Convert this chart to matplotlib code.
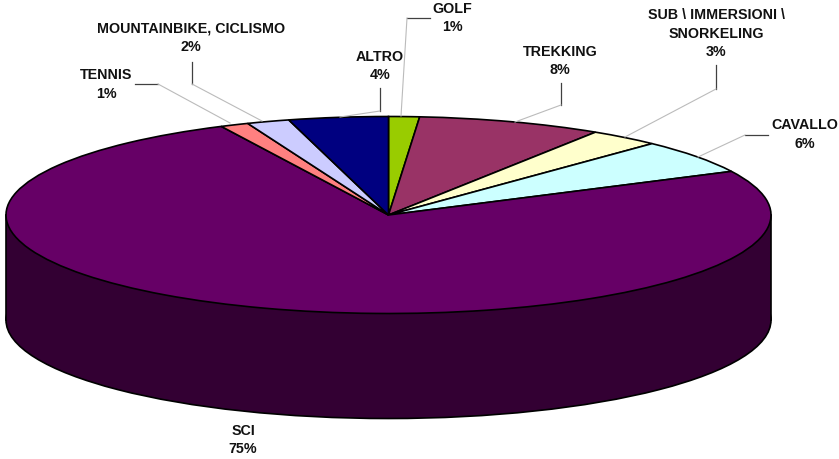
#!/bin/python3
# -*- coding: utf-8 -*-

# file name: draw_pie.py

import matplotlib as mplt
mplt.use("Agg")
import matplotlib.pyplot as plt
from matplotlib.patches import Ellipse, Rectangle

WIDTH, HEIGHT = 839, 459

# share of each sport, clockwise from twelve o'clock
sports = ["GOLF", "TREKKING", "SUB \\ IMMERSIONI \\\nSNORKELING", "CAVALLO",
          "SCI", "TENNIS", "MOUNTAINBIKE, CICLISMO", "ALTRO"]
shares = [1.3, 7.8, 3.0, 5.6, 75.1, 1.2, 1.8, 4.2]
colors = ["#99CC00", "#993366", "#FFFFCC", "#CCFFFF",
          "#660066", "#FF8080", "#CCCCFF", "#000080"]

# label centres in pixels
label_x = [452, 560, 716, 805, 243, 106, 191, 380]
label_y = [18, 61, 33.5, 134.5, 440, 84.5, 37.5, 66]

# leader lines in pixels: dark stub first, then the grey run to the slice
leaders = [
    [(430, 18), (407, 18), (401, 116)],
    [(561, 83), (561, 105), (515, 122)],
    [(716, 65), (716, 89), (625, 137)],
    [(768, 135), (745, 135), (698, 157)],
    None,
    [(135, 84), (158, 84), (230, 123)],
    [(192, 62), (192, 84), (262, 121)],
    [(380, 88), (380, 111), (340, 117)],
]

plt.rcParams["font.family"] = ["Liberation Sans", "DejaVu Sans"]

fig = plt.figure(figsize=(WIDTH / 100, HEIGHT / 100), dpi=100, facecolor="white")

# top face of the pie: a unit pie squeezed into an ellipse
left, right, top, bottom = 6, 771, 116.5, 313.5
ax = fig.add_axes([left / WIDTH, 1 - bottom / HEIGHT,
                   (right - left) / WIDTH, (bottom - top) / HEIGHT])

wedges, _ = ax.pie(shares, colors=colors, startangle=90, counterclock=False,
                   wedgeprops={"edgecolor": "black", "linewidth": 1.2, "zorder": 3})
ax.set_aspect("auto")
ax.set_xlim(-1, 1)
ax.set_ylim(-1, 1)
for w in wedges:
    w.set_clip_on(False)

# side wall, hanging below the front edge
depth = 105 / ((bottom - top) / 2)
wall = "#330033"
ax.add_patch(Ellipse((0, -depth), 2, 2, facecolor=wall, edgecolor="black",
                     linewidth=1.2, clip_on=False, zorder=1))
ax.add_patch(Rectangle((-1, -depth), 2, depth, facecolor=wall, edgecolor="none",
                       clip_on=False, zorder=1.5))
ax.plot([-1, -1], [0, -depth], color="black", linewidth=1.2, clip_on=False, zorder=2)
ax.plot([1, 1], [0, -depth], color="black", linewidth=1.2, clip_on=False, zorder=2)

# overlay in pixel coordinates for the labels and leaders
over = fig.add_axes([0, 0, 1, 1])
over.set_xlim(0, WIDTH)
over.set_ylim(HEIGHT, 0)
over.axis("off")
over.patch.set_alpha(0)

for name, share, x, y, path in zip(sports, shares, label_x, label_y, leaders):
    over.text(x, y, "%s\n%.0f%%" % (name, share), ha="center", va="center",
              fontsize=10.3, fontweight="bold", color="#111111", linespacing=1.44)
    if path is None:
        continue
    over.plot([path[0][0], path[1][0]], [path[0][1], path[1][1]],
              color="#404040", linewidth=0.9)
    over.plot([path[1][0], path[2][0]], [path[1][1], path[2][1]],
              color="#BBBBBB", linewidth=0.8)

fig.savefig("out.png", dpi=100)
